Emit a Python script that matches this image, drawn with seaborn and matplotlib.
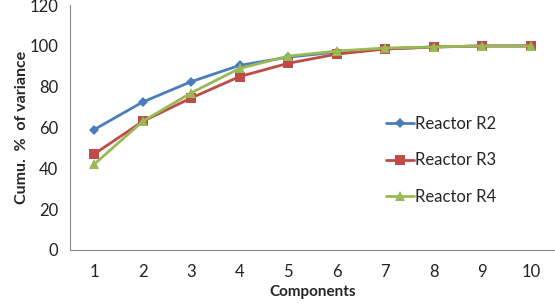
import numpy as np
import pandas as pd
import matplotlib
matplotlib.use('Agg')
import matplotlib.pyplot as plt
import seaborn as sns

sns.set_style('white')
plt.rcParams['font.family'] = ['Lato', 'DejaVu Sans']

# data
components = [1, 2, 3, 4, 5, 6, 7, 8, 9, 10]
r2 = [59, 72.5, 82.5, 90.5, 94.5, 97, 98.5, 99.5, 100, 100]
r3 = [47, 63, 74.5, 85, 91.5, 96, 98.5, 99.5, 100, 100]
r4 = [42, 63, 77, 89, 95, 97.5, 99, 99.5, 100, 100]
series_names = ['Reactor R2', 'Reactor R3', 'Reactor R4']

df = pd.DataFrame({'Components': components * 3,
                   'value': r2 + r3 + r4,
                   'series': np.repeat(series_names, len(components))})

colors = {'Reactor R2': '#4a7ebb', 'Reactor R3': '#be4b48', 'Reactor R4': '#98b954'}
markers = {'Reactor R2': 'D', 'Reactor R3': 's', 'Reactor R4': '^'}
msizes = {'Reactor R2': 5, 'Reactor R3': 7, 'Reactor R4': 7}

fig = plt.figure(figsize=(5.55, 3.04), dpi=100)
ax = fig.add_axes([0.126, 0.178, 0.874, 0.805])

for name in series_names:
    sub = df[df['series'] == name]
    sns.lineplot(data=sub, x='Components', y='value', ax=ax, color=colors[name],
                 marker=markers[name], markersize=msizes[name], markeredgewidth=0,
                 linewidth=2, label=name)

ax.set_xlim(0.5, 10.5)
ax.set_ylim(0, 120)
ax.set_yticks(range(0, 121, 20))
ax.set_xticks(components)
ax.set_xticks(np.arange(0.5, 11, 1), minor=True)
ax.tick_params(axis='x', which='major', length=0, pad=10, labelsize=12, colors='#222222')
ax.tick_params(axis='x', which='minor', length=5, color='#888888', width=1)
ax.tick_params(axis='y', length=5, color='#888888', width=1, labelsize=12, colors='#222222')
for s in ['top', 'right']:
    ax.spines[s].set_visible(False)
for s in ['left', 'bottom']:
    ax.spines[s].set_color('#888888')

ax.set_xlabel('Components', fontweight='bold', fontsize=11, labelpad=4)
ax.set_ylabel('Cumu.  %  of variance', fontweight='bold', fontsize=11.5, labelpad=0)

ax.legend(loc='upper left', bbox_to_anchor=(0.62, 0.61), frameon=False, fontsize=12,
          handlelength=1.7, handletextpad=0.05, labelspacing=1.25)

fig.savefig('out.png', dpi=100)
